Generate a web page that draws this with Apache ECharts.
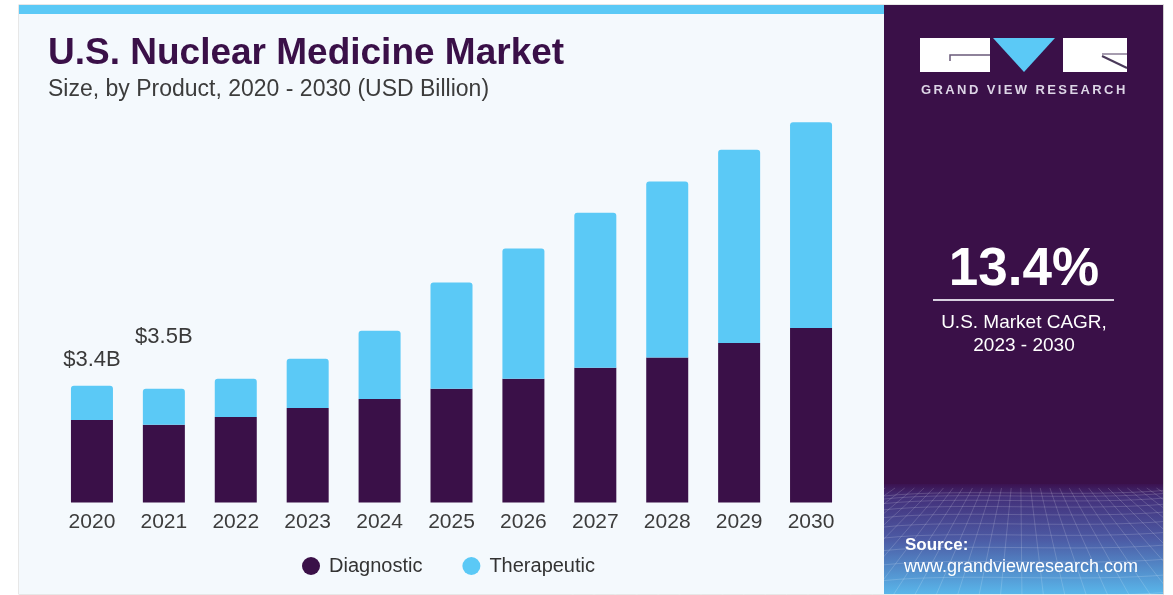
<!DOCTYPE html>
<html><head><meta charset="utf-8">
<script src="https://cdn.jsdelivr.net/npm/echarts@6/dist/echarts.min.js"></script>
<style>
html,body{margin:0;padding:0;background:#fff;}
#wrap{position:relative;width:1173px;height:595px;overflow:hidden;}
#c{width:1173px;height:595px;}
#gvr{position:absolute;left:921px;top:82px;font:bold 13px "Liberation Sans",Arial,sans-serif;letter-spacing:2.4px;color:#ddd5e6;white-space:nowrap;}
</style>
</head><body>
<div id="wrap"><div id="c"></div><div id="gvr">GRAND VIEW RESEARCH</div></div>
<script>
// ---- data ----
const years = ['2020','2021','2022','2023','2024','2025','2026','2027','2028','2029','2030'];
const diagnostic = [2.40, 2.26, 2.49, 2.75, 3.01, 3.31, 3.60, 3.92, 4.22, 4.64, 5.08];
const therapeutic = [1.00, 1.05, 1.11, 1.43, 1.99, 3.09, 3.79, 4.51, 5.12, 5.62, 5.98];
const totalLabels = ['$3.4B', '$3.5B'];
const labelDistances = [15, 41];
const seriesNames = ['Diagnostic', 'Therapeutic'];

const PURPLE = '#3a1048';
const BLUE = '#5bc9f6';
const FONT = '"Liberation Sans", Arial, sans-serif';

const chart = echarts.init(document.getElementById('c'), null, {renderer: 'canvas'});

const therapeuticData = therapeutic.map((v, i) => {
  if (i < totalLabels.length) {
    return {value: v, label: {show: true, position: 'top', distance: labelDistances[i],
      formatter: totalLabels[i], fontSize: 22, color: '#3a3a3a', fontFamily: FONT}};
  }
  return v;
});

// decorative mesh in bottom of right panel
const mesh = [];
const V = [1020, 400];
for (let xb = 560; xb <= 1500; xb += 22) {
  const t0 = (488 - V[1]) / (600 - V[1]);
  mesh.push({type: 'line', z: 3, silent: true,
    shape: {x1: V[0] + (xb - V[0]) * t0, y1: 488, x2: xb, y2: 600},
    style: {stroke: 'rgba(255,255,255,0.16)', lineWidth: 1}});
}
let yy = 492, step = 3;
while (yy < 600) {
  mesh.push({type: 'bezierCurve', z: 3, silent: true,
    shape: {x1: 884, y1: yy + 4, x2: 1170, y2: yy - 2, cpx1: 960, cpy1: yy - 4, cpx2: 1080, cpy2: yy + 6},
    style: {stroke: 'rgba(255,255,255,0.16)', lineWidth: 1, fill: null}});
  yy += step; step += 1.6;
}

const graphics = [
  // outer border
  {type: 'rect', z: 0, silent: true, shape: {x: 18.5, y: 4.5, width: 1145, height: 590}, style: {fill: '#cfcfcf'}},
  // right panel
  {type: 'rect', z: 1, silent: true, shape: {x: 884, y: 5, width: 279, height: 589}, style: {fill: PURPLE}},
  {type: 'rect', z: 2, silent: true, shape: {x: 884, y: 484, width: 279, height: 110},
    style: {fill: new echarts.graphic.LinearGradient(0, 0, 0, 1, [
      {offset: 0, color: '#3b1250'}, {offset: 0.12, color: '#43307a'},
      {offset: 0.5, color: '#4c5aa4'}, {offset: 1, color: '#59b6ea'}])}},
  ...mesh,
  // left panel
  {type: 'rect', z: 4, silent: true, shape: {x: 19, y: 5, width: 865, height: 589}, style: {fill: '#f4f9fd'}},
  {type: 'rect', z: 4, silent: true, shape: {x: 19, y: 5, width: 865, height: 9}, style: {fill: BLUE}},
  // right white strip cover
  {type: 'rect', z: 4, silent: true, shape: {x: 1164, y: 0, width: 20, height: 600}, style: {fill: '#ffffff'}},
  {type: 'rect', z: 4, silent: true, shape: {x: 1163, y: 4.5, width: 1, height: 590}, style: {fill: '#cfcfcf'}},
  // title
  {type: 'text', z: 10, style: {text: 'U.S. Nuclear Medicine Market', x: 48, y: 54, textVerticalAlign: 'middle',
    font: 'bold 37px ' + FONT, fill: '#3a1048'}},
  {type: 'text', z: 10, style: {text: 'Size, by Product, 2020 - 2030 (USD Billion)', x: 48, y: 90, textVerticalAlign: 'middle',
    font: '23px ' + FONT, fill: '#3c3c3c'}},
  // logo
  {type: 'rect', z: 10, silent: true, shape: {x: 920, y: 38, width: 70, height: 34}, style: {fill: '#ffffff'}},
  {type: 'polygon', z: 10, silent: true, shape: {points: [[993, 38], [1055, 38], [1024, 72]]}, style: {fill: BLUE}},
  {type: 'rect', z: 10, silent: true, shape: {x: 1063, y: 38, width: 64, height: 34}, style: {fill: '#ffffff'}},
  {type: 'polyline', z: 11, silent: true, shape: {points: [[950, 61], [950, 55], [990, 55]]}, style: {stroke: '#6a5a7a', lineWidth: 1.5, fill: null}},
  {type: 'line', z: 11, silent: true, shape: {x1: 1102, y1: 54, x2: 1127, y2: 54}, style: {stroke: '#6a5a7a', lineWidth: 1.2}},
  {type: 'line', z: 11, silent: true, shape: {x1: 1102, y1: 56, x2: 1127, y2: 68}, style: {stroke: '#4a3a5a', lineWidth: 2}},
  // CAGR block
  {type: 'text', z: 10, style: {text: '13.4%', x: 1024, y: 270, textAlign: 'center', textVerticalAlign: 'middle',
    font: 'bold 53px ' + FONT, fill: '#ffffff'}},
  {type: 'rect', z: 10, silent: true, shape: {x: 933, y: 299, width: 181, height: 2}, style: {fill: '#d8d0e0'}},
  {type: 'text', z: 10, style: {text: 'U.S. Market CAGR,', x: 1024, y: 323, textAlign: 'center', textVerticalAlign: 'middle',
    font: '19px ' + FONT, fill: '#ffffff'}},
  {type: 'text', z: 10, style: {text: '2023 - 2030', x: 1024, y: 346, textAlign: 'center', textVerticalAlign: 'middle',
    font: '19px ' + FONT, fill: '#ffffff'}},
  // source
  {type: 'text', z: 10, style: {text: 'Source:', x: 905, y: 545, textVerticalAlign: 'middle',
    font: 'bold 17px ' + FONT, fill: '#ffffff'}},
  {type: 'text', z: 10, style: {text: 'www.grandviewresearch.com', x: 904, y: 567, textVerticalAlign: 'middle',
    font: '18px ' + FONT, fill: '#ffffff'}}
];

chart.setOption({
  animation: false,
  backgroundColor: '#ffffff',
  graphic: graphics,
  grid: {left: 56, right: 326, top: 90, bottom: 92.5, containLabel: false},
  legend: {
    data: seriesNames, left: 297, top: 551, z: 20, icon: 'circle', itemWidth: 18, itemHeight: 18, itemGap: 40,
    textStyle: {fontSize: 20, color: '#333333', fontFamily: FONT, padding: [0, 0, 0, 4]}
  },
  xAxis: {
    type: 'category', data: years, z: 20,
    axisLine: {show: false}, axisTick: {show: false},
    axisLabel: {fontSize: 21, color: '#3c3c3c', fontFamily: FONT, margin: 9}
  },
  yAxis: {type: 'value', min: 0, max: 12, show: false, splitLine: {show: false}},
  series: [
    {name: seriesNames[0], type: 'bar', stack: 'total', barWidth: 42, z: 20,
      itemStyle: {color: PURPLE}, data: diagnostic},
    {name: seriesNames[1], type: 'bar', stack: 'total', barWidth: 42, z: 20,
      itemStyle: {color: BLUE, borderRadius: [3, 3, 0, 0]}, data: therapeuticData}
  ]
});
</script>
</body></html>
